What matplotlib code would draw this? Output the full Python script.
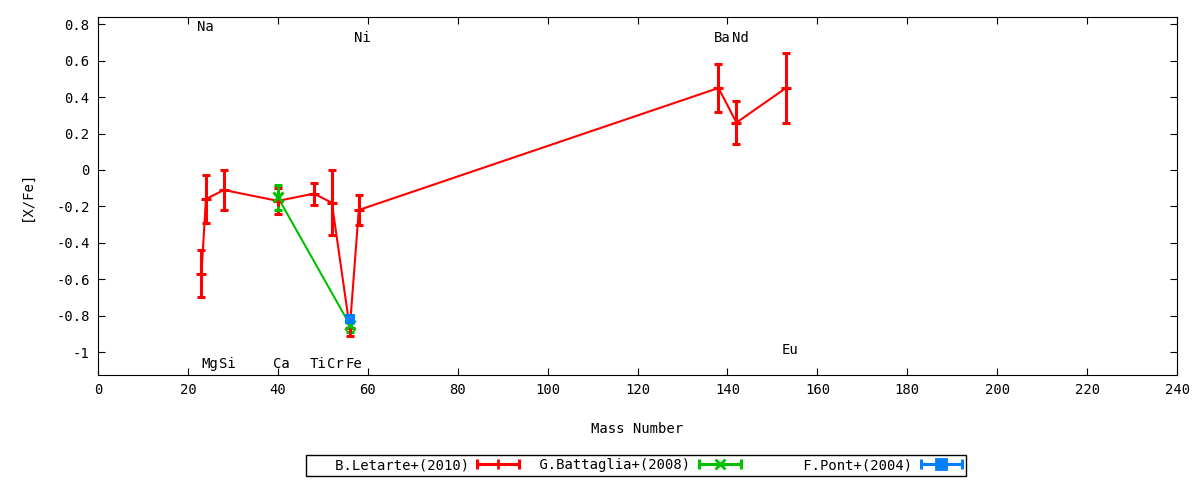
import numpy as np
import matplotlib
matplotlib.use('Agg')
import matplotlib.pyplot as plt
from matplotlib.lines import Line2D
from matplotlib.legend_handler import HandlerBase

plt.rcParams['font.family'] = ['DejaVu Sans Mono']
FS = 10

# B.Letarte+(2010)
let_mass = [23, 24, 28, 40, 48, 52, 56, 58, 138, 142, 153]
let_val = [-0.57, -0.16, -0.11, -0.17, -0.13, -0.18, -0.87, -0.22, 0.45, 0.26, 0.45]
let_err = [0.13, 0.13, 0.11, 0.07, 0.06, 0.18, 0.04, 0.08, 0.13, 0.12, 0.19]

# G.Battaglia+(2008)
bat_mass = [40, 56]
bat_val = [-0.15, -0.85]
bat_err = [0.07, 0.04]

# F.Pont+(2004)
pon_mass = [56]
pon_val = [-0.82]
pon_err = [0.02]

# element labels (x, y, text)
lab_x = [22, 23, 27, 39, 47, 51, 55, 57, 137, 141, 152]
lab_y = [0.786, -1.066, -1.066, -1.066, -1.066, -1.066, -1.066, 0.725, 0.725, 0.725, -0.989]
lab_txt = ['Na', 'Mg', 'Si', 'Ca', 'Ti', 'Cr', 'Fe', 'Ni', 'Ba', 'Nd', 'Eu']


class ErrKey:
    def __init__(self, color, marker):
        self.color = color
        self.marker = marker


class HandlerErr(HandlerBase):
    # gnuplot-like sample: horizontal bar with end caps and point in the middle
    def create_artists(self, legend, orig_handle, xdescent, ydescent,
                       width, height, fontsize, trans):
        c = orig_handle.color
        y = height / 2 - ydescent
        x0, x1 = -xdescent, width - xdescent
        bar = Line2D([x0, x1], [y, y], color=c, lw=2.2)
        caps = Line2D([x0, x1], [y, y], ls='none', marker='|', ms=7,
                      mew=2.2, color=c)
        mid = Line2D([(x0 + x1) / 2], [y], ls='none', marker=orig_handle.marker,
                     ms=6.5, mew=2, color=c)
        arts = [bar, caps, mid]
        for a in arts:
            a.set_transform(trans)
        return arts


fig = plt.figure(figsize=(12, 4.8), dpi=100)
ax = fig.add_axes([0.0817, 0.2188, 0.8992, 0.7458])

series = [
    ('B.Letarte+(2010)', let_mass, let_val, let_err, '#ff0000', '+'),
    ('G.Battaglia+(2008)', bat_mass, bat_val, bat_err, '#00c000', 'x'),
    ('F.Pont+(2004)', pon_mass, pon_val, pon_err, '#0080ff', 's'),
]
keys, names = [], []
for label, xm, yv, ye, color, mk in series:
    ax.plot(xm, yv, '-', color=color, lw=1.5, zorder=2)
    ax.errorbar(xm, yv, yerr=ye, fmt='none', ecolor=color,
                elinewidth=2.2, capsize=3, capthick=2.2, zorder=3)
    if mk == 's':
        ax.plot(xm, yv, ls='none', marker=mk, color=color, ms=7, mew=0, zorder=4)
    else:
        ax.plot(xm, yv, ls='none', marker=mk, color=color, ms=6.5, mew=2.2, zorder=4)
    keys.append(ErrKey(color, mk))
    names.append(label.rjust(19))

for x, y, t in zip(lab_x, lab_y, lab_txt):
    ax.text(x, y, t, fontsize=FS, ha='left', va='center')

ax.set_xlim(0, 240)
ax.set_ylim(-1.126, 0.84)
ax.set_xticks(np.arange(0, 241, 20))
ax.set_yticks([-1, -0.8, -0.6, -0.4, -0.2, 0, 0.2, 0.4, 0.6, 0.8])
ax.set_yticklabels(['-1', '-0.8', '-0.6', '-0.4', '-0.2', '0', '0.2', '0.4', '0.6', '0.8'])
ax.tick_params(direction='in', top=True, right=True, labelsize=FS, length=5, pad=6)
ax.set_xlabel('Mass Number', fontsize=FS, labelpad=18)
ax.set_ylabel('[X/Fe]', fontsize=FS, labelpad=16)

leg = fig.legend(keys, names, handler_map={ErrKey: HandlerErr()},
                 loc='center', bbox_to_anchor=(0.53, 0.031),
                 ncol=3, markerfirst=False, fontsize=FS, fancybox=False,
                 edgecolor='black', framealpha=1, handlelength=3.0,
                 handletextpad=0.6, columnspacing=0.9, borderpad=0.25,
                 borderaxespad=0)
leg.get_frame().set_linewidth(1)

plt.savefig('out.png', dpi=100)
plt.close()
